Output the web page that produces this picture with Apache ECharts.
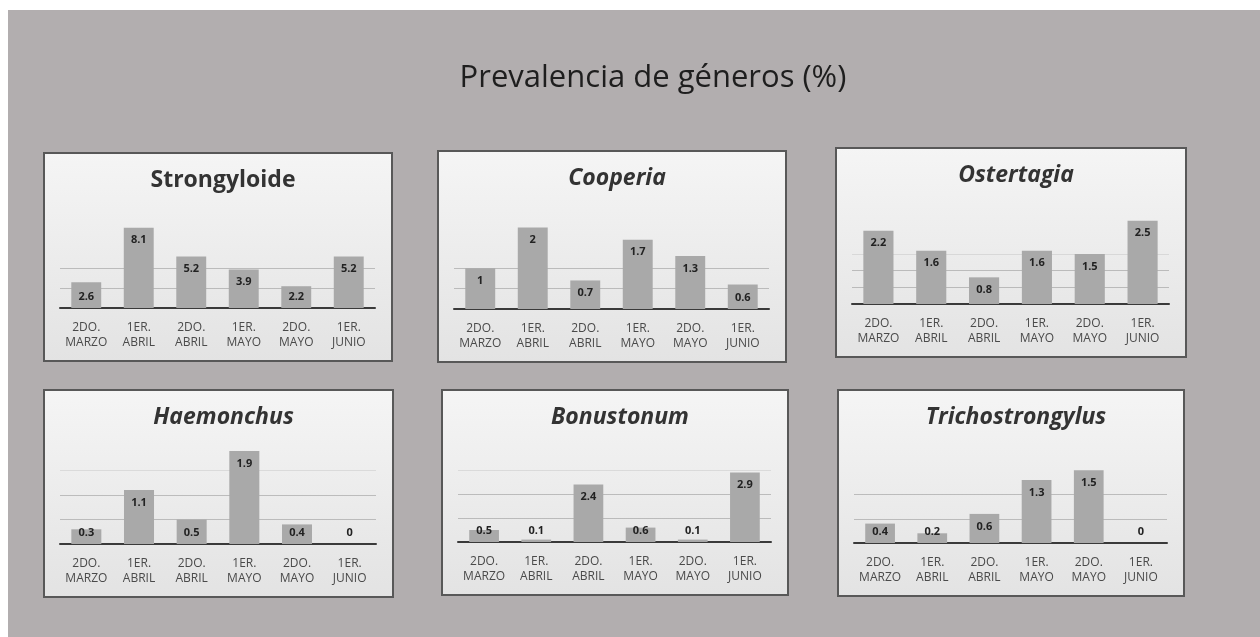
<!DOCTYPE html>
<html lang="es">
<head>
    <meta charset="UTF-8">
    <title>Prevalencia de géneros (%)</title>
    <script src="https://cdn.jsdelivr.net/npm/echarts@6/dist/echarts.min.js"></script>
    <style>
      *{margin:0;padding:0}
      html,body{width:100%;height:100%;background:#fff}
      #main{width:1260px;height:637px}
    </style>
</head>
<body>
<div id="main"></div>
<script>
    // datos
    var categories = ['2DO.\nMARZO', '1ER.\nABRIL', '2DO.\nABRIL', '1ER.\nMAYO', '2DO.\nMAYO', '1ER.\nJUNIO'];
    var names = ['Strongyloide', 'Cooperia', 'Ostertagia', 'Haemonchus', 'Bonustonum', 'Trichostrongylus'];
    var strongyloide = [2.6, 8.1, 5.2, 3.9, 2.2, 5.2];
    var cooperia = [1, 2, 0.7, 1.7, 1.3, 0.6];
    var ostertagia = [2.2, 1.6, 0.8, 1.6, 1.5, 2.5];
    var haemonchus = [0.3, 1.1, 0.5, 1.9, 0.4, 0];
    var bonustonum = [0.5, 0.1, 2.4, 0.6, 0.1, 2.9];
    var trichostrongylus = [0.4, 0.2, 0.6, 1.3, 1.5, 0];
    var values = [strongyloide, cooperia, ostertagia, haemonchus, bonustonum, trichostrongylus];

    // cajas de cada grafico [x, y, ancho, alto]
    var panels = [
        [44, 153, 348, 208],
        [438, 151, 348, 211],
        [836, 148, 350, 209],
        [44, 390, 349, 207],
        [442, 390, 346, 205],
        [838, 390, 346, 206]
    ];
    var G = 'rgba(140,140,140,0.5)', F = 'rgba(140,140,140,0.2)', T = 'rgba(0,0,0,0)';
    var scales = [
        {max: 10, interval: 2, lines: [T, G, G, T, T, T]},
        {max: 2.5, interval: 0.5, lines: [T, G, G, T, T, T]},
        {max: 3, interval: 0.5, lines: [T, G, G, F, T, T, T]},
        {max: 2, interval: 0.5, lines: [T, G, G, F, T]},
        {max: 4, interval: 1, lines: [T, G, G, F, T]},
        {max: 2, interval: 0.5, lines: [T, G, G, T, T]}
    ];

    var chart = echarts.init(document.getElementById('main'));
    var grids = [], xAxes = [], yAxes = [], series = [], titles = [];
    var graphics = [{
        type: 'rect', shape: {x: 8, y: 10, width: 1252, height: 627},
        style: {fill: '#b2aeaf'}, silent: true
    }];

    titles.push({
        text: 'Prevalencia de géneros (%)',
        left: 648, top: 58, textAlign: 'center',
        textStyle: {fontFamily: 'Open Sans', fontSize: 31, fontWeight: 'normal', color: '#1e1e1e'}
    });

    panels.forEach(function (p, i) {
        var hgt = p[3] - 109;
        graphics.push({
            type: 'rect', shape: {x: p[0], y: p[1], width: p[2], height: p[3]},
            style: {
                fill: new echarts.graphic.LinearGradient(0, 0, 0, 1, [
                    {offset: 0, color: '#f5f5f5'},
                    {offset: 1, color: '#e3e3e3'}
                ]),
                stroke: '#585858', lineWidth: 2
            },
            silent: true
        });
        titles.push({
            text: names[i],
            left: p[0] + p[2] / 2, top: p[1] + 11, textAlign: 'center',
            textStyle: {
                fontFamily: 'Open Sans', fontSize: 23, fontWeight: 'bold',
                fontStyle: i === 0 ? 'normal' : 'italic', color: '#333'
            }
        });
        grids.push({left: p[0] + 16, top: p[1] + 56, width: p[2] - 33, height: hgt});
        xAxes.push({
            type: 'category', gridIndex: i, data: categories,
            axisLine: {lineStyle: {color: '#3a3a3a', width: 2}},
            axisTick: {show: false},
            axisLabel: {
                interval: 0, margin: 12, fontFamily: 'Open Sans', fontSize: 12,
                lineHeight: 15, color: '#4a4a4a'
            }
        });
        var sc = scales[i];
        yAxes.push({
            type: 'value', gridIndex: i, min: 0, max: sc.max, interval: sc.interval,
            axisLabel: {show: false}, axisLine: {show: false}, axisTick: {show: false},
            splitLine: {lineStyle: {color: sc.lines, width: 1}}
        });
        series.push({
            type: 'bar', xAxisIndex: i, yAxisIndex: i,
            barWidth: '57%',
            itemStyle: {color: '#a9a9a9'},
            data: values[i].map(function (v) {
                var px = v / sc.max * hgt;
                return {
                    value: v,
                    label: px < 26
                        ? {position: 'insideBottom', distance: 6}
                        : {position: 'insideTop', distance: 7}
                };
            }),
            label: {
                show: true, fontFamily: 'Open Sans', fontSize: 11,
                fontWeight: 'bold', color: '#222'
            }
        });
    });

    chart.setOption({
        backgroundColor: '#fff',
        animation: false,
        title: titles,
        graphic: graphics,
        grid: grids,
        xAxis: xAxes,
        yAxis: yAxes,
        series: series
    });
</script>
</body>
</html>
